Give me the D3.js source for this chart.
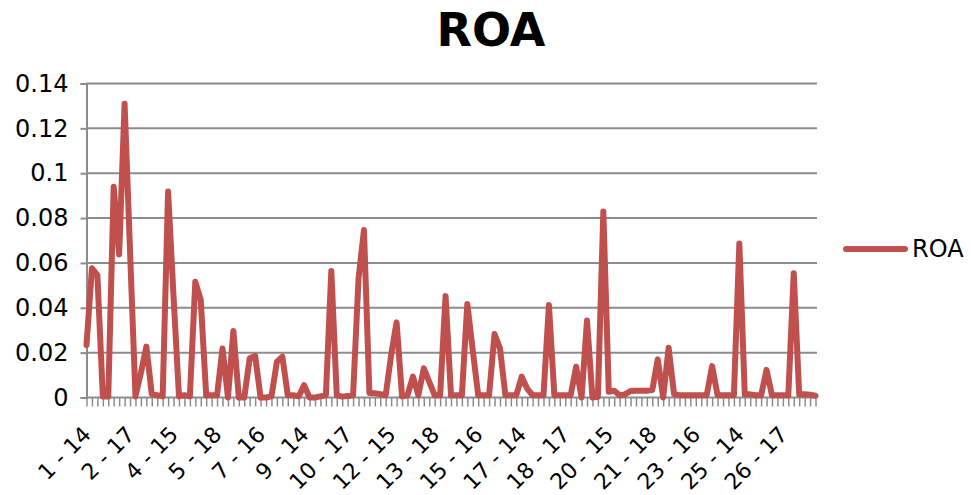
<!DOCTYPE html>
<html>
<head>
<meta charset="utf-8">
<script src="https://cdn.jsdelivr.net/npm/d3@7"></script>
<style>
  html, body { margin: 0; padding: 0; background: #fff; }
  svg { display: block; font-family: "DejaVu Sans", sans-serif; }
</style>
</head>
<body>
<svg id="chart" width="971" height="495"></svg>
<script>
// Firms and years that make up the category axis ("firm - year")
const firms = [1,2,3,4,5,6,7,8,9,10,11,12,13,14,15,16,17,18,19,20,21,22,23,24,25,26,27];
const years = [14, 15, 16, 17, 18];
const categories = firms.flatMap(f => years.map(y => f + " - " + y));

// ROA for every firm-year
const roa = [
  0.0234, 0.0576, 0.0546, 0.0005, 0.0005,
  0.0940, 0.0638, 0.1310, 0.0655, 0.0005,
  0.0110, 0.0227, 0.0015, 0.0010, 0.0005,
  0.0918, 0.0450, 0.0005, 0.0010, 0.0005,
  0.0516, 0.0435, 0.0010, 0.0010, 0.0010,
  0.0219, 0.0000, 0.0296, 0.0000, 0.0000,
  0.0175, 0.0185, 0.0000, 0.0000, 0.0005,
  0.0160, 0.0182, 0.0010, 0.0010, 0.0005,
  0.0055, 0.0000, 0.0000, 0.0005, 0.0010,
  0.0564, 0.0010, 0.0004, 0.0007, 0.0010,
  0.0530, 0.0747, 0.0020, 0.0019, 0.0015,
  0.0010, 0.0190, 0.0335, 0.0005, 0.0010,
  0.0093, 0.0010, 0.0130, 0.0070, 0.0010,
  0.0010, 0.0452, 0.0010, 0.0010, 0.0010,
  0.0417, 0.0210, 0.0010, 0.0010, 0.0010,
  0.0283, 0.0219, 0.0010, 0.0010, 0.0010,
  0.0093, 0.0040, 0.0010, 0.0010, 0.0010,
  0.0412, 0.0010, 0.0010, 0.0010, 0.0010,
  0.0137, 0.0000, 0.0343, 0.0000, 0.0003,
  0.0829, 0.0026, 0.0030, 0.0010, 0.0014,
  0.0029, 0.0030, 0.0030, 0.0030, 0.0033,
  0.0170, 0.0000, 0.0222, 0.0015, 0.0010,
  0.0010, 0.0010, 0.0010, 0.0010, 0.0010,
  0.0140, 0.0010, 0.0010, 0.0010, 0.0010,
  0.0687, 0.0014, 0.0014, 0.0010, 0.0010,
  0.0123, 0.0010, 0.0010, 0.0010, 0.0010,
  0.0554, 0.0014, 0.0014, 0.0012, 0.0008
];

const yTicks = [0, 0.02, 0.04, 0.06, 0.08, 0.1, 0.12, 0.14];
const labelEvery = 8;
const seriesName = "ROA";
const lineColor = "#C0504D";
const gridColor = "#8c8c8c";

const svg = d3.select("#chart");
const plot = { left: 86.5, right: 815.5, top: 83.5, bottom: 397.5 };

const x = d3.scalePoint().domain(categories).range([plot.left, plot.right]);
const y = d3.scaleLinear().domain([0, 0.14]).range([plot.bottom, plot.top]);

// Title
svg.append("text")
  .attr("x", 491).attr("y", 46)
  .attr("text-anchor", "middle")
  .attr("font-size", 46).attr("font-weight", "bold")
  .text(seriesName);

// Horizontal gridlines
svg.append("g")
  .selectAll("line")
  .data(yTicks.filter(t => t > 0))
  .join("line")
  .attr("x1", plot.left).attr("x2", plot.right + 1.5)
  .attr("y1", d => y(d)).attr("y2", d => y(d))
  .attr("stroke", gridColor).attr("stroke-width", 2);

// Y axis
const yAxis = d3.axisLeft(y)
  .tickValues(yTicks)
  .tickSize(6)
  .tickPadding(12)
  .tickFormat(d => String(d));
const gy = svg.append("g").attr("transform", `translate(${plot.left},0)`).call(yAxis);
gy.select(".domain").attr("stroke", gridColor).attr("stroke-width", 2);
gy.selectAll(".tick line").attr("stroke", gridColor).attr("stroke-width", 2);
gy.selectAll(".tick text")
  .attr("font-size", 24).attr("font-family", "DejaVu Sans, sans-serif")
  .attr("fill", "#000");

// X axis with a tick at every category and a label at every 8th
const xAxis = d3.axisBottom(x)
  .tickSize(9)
  .tickSizeOuter(0)
  .tickFormat(d => (categories.indexOf(d) % labelEvery === 0 ? d : ""));
const gx = svg.append("g").attr("transform", `translate(0,${plot.bottom})`).call(xAxis);
gx.select(".domain").attr("stroke", gridColor).attr("stroke-width", 2)
  .attr("d", `M${plot.left},0H${plot.right + 1.5}`);
gx.selectAll(".tick line").attr("stroke", gridColor).attr("stroke-width", 1.5);
gx.selectAll(".tick text")
  .attr("font-size", 22).attr("font-family", "DejaVu Sans, sans-serif")
  .attr("fill", "#000")
  .attr("text-anchor", "end")
  .attr("dy", "0.35em")
  .attr("transform", "translate(0,33) rotate(-45)")
  .attr("y", 0).attr("x", 0);

// ROA line
const line = d3.line()
  .x((d, i) => x(categories[i]))
  .y(d => y(d));
svg.append("path")
  .datum(roa)
  .attr("d", line)
  .attr("fill", "none")
  .attr("stroke", lineColor)
  .attr("stroke-width", 6)
  .attr("stroke-linejoin", "round")
  .attr("stroke-linecap", "round");

// Legend
const legend = svg.append("g").attr("transform", "translate(846,249)");
legend.append("line")
  .attr("x1", 0).attr("x2", 59).attr("y1", 0).attr("y2", 0)
  .attr("stroke", lineColor).attr("stroke-width", 6)
  .attr("stroke-linecap", "round");
legend.append("text")
  .attr("x", 66).attr("y", 0).attr("dy", "0.35em")
  .attr("font-size", 24)
  .text(seriesName);
</script>
</body>
</html>
